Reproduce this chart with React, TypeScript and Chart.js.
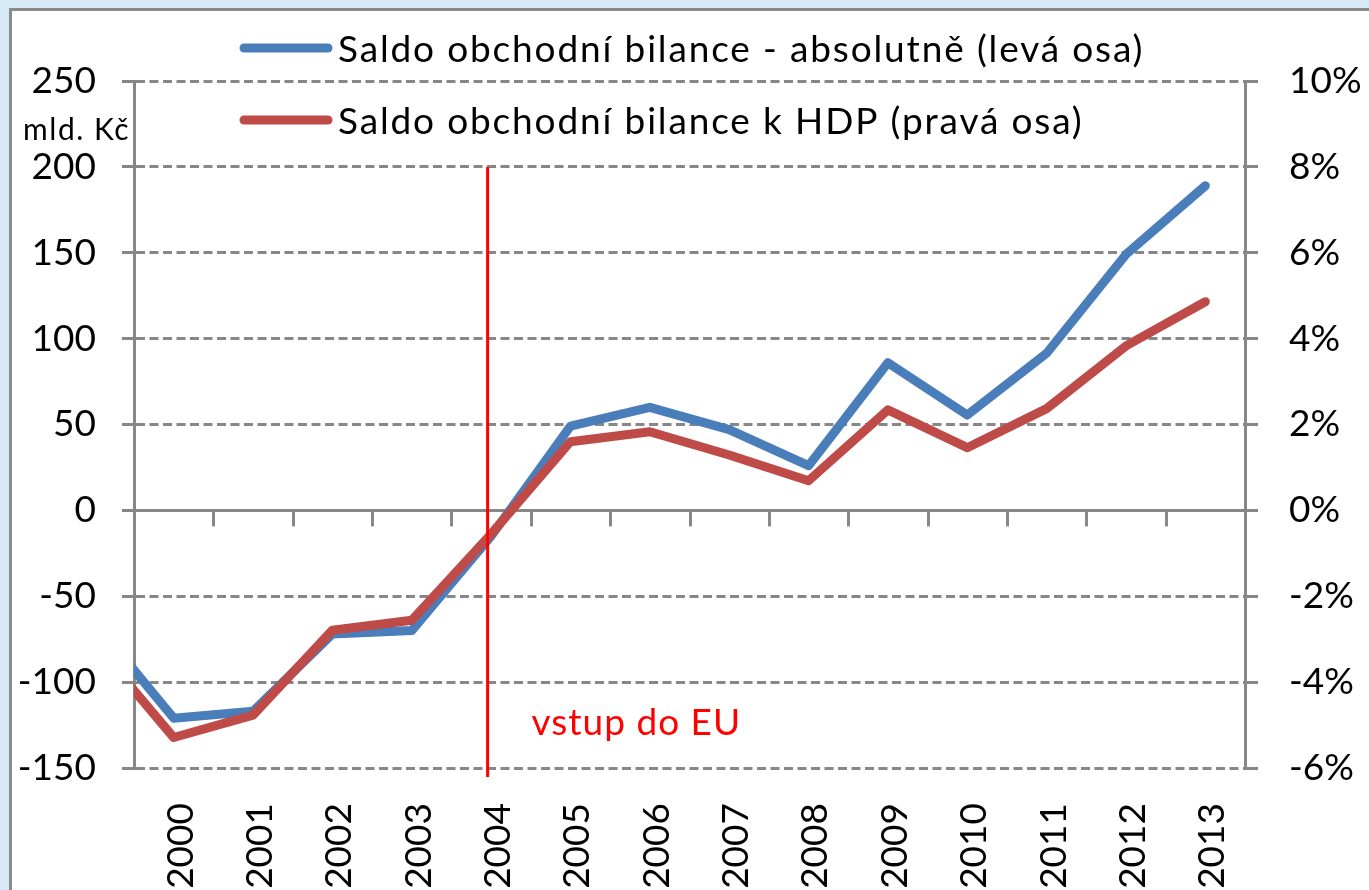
import React, { useEffect, useRef } from 'react';
import { Chart, registerables } from 'chart.js';

Chart.register(...registerables);

// ---- data ----
const years = ['1999', '2000', '2001', '2002', '2003', '2004', '2005', '2006', '2007', '2008', '2009', '2010', '2011', '2012', '2013'];
const firstShownYear = '2000';
const saldoAbsolutne = [-65, -121, -117, -72, -70, -15, 49, 60, 47, 26, 86, 55.5, 91.5, 149, 189];
const saldoKHdp = [-3.1, -5.29, -4.77, -2.79, -2.56, -0.55, 1.6, 1.83, 1.29, 0.69, 2.34, 1.46, 2.37, 3.83, 4.86];
const leftAxisRange = [-150, 250];
const leftAxisStep = 50;
const rightAxisRange = [-6, 10];
const rightAxisStep = 2;
const euEntryYear = '2004';
const euEntryLabel = 'vstup do EU';
const leftAxisUnit = 'mld. Kč';
const seriesLabels = [
  'Saldo obchodní bilance - absolutně (levá osa)',
  'Saldo obchodní bilance k HDP (pravá osa)',
];

// ---- styles ----
const FONT = 'Lato, "Noto Sans", sans-serif';
const GRID = '#878787';
const BLUE = '#4a7ebb';
const RED = '#be4b48';

const decorPlugin = {
  id: 'decor',
  beforeDatasetsDraw(chart: any) {
    const { ctx, chartArea, scales } = chart;
    const xs = scales.x;
    const ys = scales.y;
    const y0 = ys.getPixelForValue(0);
    ctx.save();
    ctx.strokeStyle = GRID;
    ctx.lineWidth = 3;
    ctx.setLineDash([]);
    ctx.beginPath();
    ctx.moveTo(chartArea.left - 12, y0);
    ctx.lineTo(chartArea.right + 13, y0);
    ctx.stroke();
    const n = xs.ticks.length;
    for (let i = 1; i < n; i++) {
      const xb = Math.round((xs.getPixelForTick(i - 1) + xs.getPixelForTick(i)) / 2) + 0.5;
      ctx.beginPath();
      ctx.moveTo(xb, y0);
      ctx.lineTo(xb, y0 + 16);
      ctx.stroke();
    }
    ctx.restore();
  },
  afterDatasetsDraw(chart: any) {
    const { ctx, chartArea, scales } = chart;
    const xs = scales.x;
    const ys = scales.y;
    // EU entry marker
    const xe = xs.getPixelForValue(years.indexOf(euEntryYear)) - 3.5;
    ctx.save();
    ctx.strokeStyle = '#ff0000';
    ctx.lineWidth = 3;
    ctx.beginPath();
    ctx.moveTo(xe, ys.getPixelForValue(200));
    ctx.lineTo(xe, chartArea.bottom + 9);
    ctx.stroke();
    ctx.fillStyle = '#ff0000';
    ctx.font = `37px ${FONT}`;
    ctx.textAlign = 'left';
    ctx.textBaseline = 'alphabetic';
    (ctx as any).letterSpacing = '1px';
    ctx.fillText(euEntryLabel, xe + 44, chartArea.bottom - 33);

    // axis unit
    ctx.fillStyle = '#000';
    ctx.font = `30px ${FONT}`;
    (ctx as any).letterSpacing = '1.5px';
    ctx.textAlign = 'left';
    const uw = ctx.measureText(leftAxisUnit).width;
    ctx.fillText(leftAxisUnit, chartArea.left - 4 - uw, 140);

    // legend
    const ds = chart.data.datasets;
    const rows = [48, 120];
    ds.forEach((d: any, i: number) => {
      const yy = rows[i];
      ctx.strokeStyle = d.borderColor;
      ctx.lineWidth = 9;
      ctx.lineCap = 'round';
      ctx.beginPath();
      ctx.moveTo(244, yy);
      ctx.lineTo(328, yy);
      ctx.stroke();
      ctx.fillStyle = '#000';
      ctx.font = `37px ${FONT}`;
      (ctx as any).letterSpacing = '1.85px';
      ctx.textAlign = 'left';
      ctx.fillText(d.label, 338, yy + 13.5);
    });
    ctx.restore();
  },
};

export default function App() {
  const ref = useRef<HTMLCanvasElement | null>(null);

  useEffect(() => {
    if (!ref.current) return;
    const chart = new Chart(ref.current, {
      type: 'line',
      data: {
        labels: years,
        datasets: [
          {
            label: seriesLabels[0],
            data: saldoAbsolutne,
            yAxisID: 'y',
            borderColor: BLUE,
            backgroundColor: BLUE,
            borderWidth: 9,
            pointRadius: 0,
            tension: 0,
            borderJoinStyle: 'round',
            borderCapStyle: 'round',
            clip: 0,
            order: 2,
          },
          {
            label: seriesLabels[1],
            data: saldoKHdp,
            yAxisID: 'y1',
            borderColor: RED,
            backgroundColor: RED,
            borderWidth: 9,
            pointRadius: 0,
            tension: 0,
            borderJoinStyle: 'round',
            borderCapStyle: 'round',
            clip: 0,
            order: 1,
          },
        ],
      },
      options: {
        responsive: false,
        animation: false,
        layout: { padding: { top: 81, left: 0, right: 0, bottom: 0 } },
        plugins: {
          legend: { display: false },
          tooltip: { enabled: false },
          title: { display: false },
        },
        scales: {
          x: {
            type: 'category',
            min: firstShownYear,
            offset: true,
            grid: { display: false, drawTicks: false },
            border: { display: false },
            ticks: {
              autoSkip: false,
              minRotation: 90,
              maxRotation: 90,
              padding: 35,
              labelOffset: 7,
              color: '#000',
              font: { family: FONT, size: 37 },
            },
            afterFit: (s: any) => {
              s.height = 232;
            },
          },
          y: {
            position: 'left',
            min: leftAxisRange[0],
            max: leftAxisRange[1],
            ticks: {
              stepSize: leftAxisStep,
              padding: 26,
              color: '#000',
              font: { family: FONT, size: 37 },
            },
            grid: { color: GRID, lineWidth: 3, tickLength: 12, drawTicks: true },
            border: { display: true, color: GRID, width: 3, dash: [9, 4.5] },
            afterFit: (s: any) => {
              s.width = 134;
            },
          },
          y1: {
            position: 'right',
            min: rightAxisRange[0],
            max: rightAxisRange[1],
            ticks: {
              stepSize: rightAxisStep,
              padding: 31,
              color: '#000',
              font: { family: FONT, size: 37 },
              callback: (v: any) => `${v}%`,
            },
            grid: { drawOnChartArea: false, color: GRID, lineWidth: 3, tickLength: 13 },
            border: { display: true, color: GRID, width: 3 },
            afterFit: (s: any) => {
              s.width = 124;
            },
          },
        },
      },
      plugins: [decorPlugin],
    } as any);
    return () => chart.destroy();
  }, []);

  return (
    <div style={{ position: 'fixed', left: 0, top: 0, right: 0, bottom: 0, background: '#d6e9f6', overflow: 'hidden' }}>
      <div
        style={{
          position: 'absolute',
          left: 9,
          top: 8,
          width: 1500,
          height: 1100,
          background: '#fff',
          borderLeft: '3px solid #8a8a8a',
          borderTop: '3px solid #8a8a8a',
        }}
      />
      <canvas ref={ref} width={1369} height={1000} style={{ position: 'absolute', left: 0, top: 0 }} />
    </div>
  );
}
